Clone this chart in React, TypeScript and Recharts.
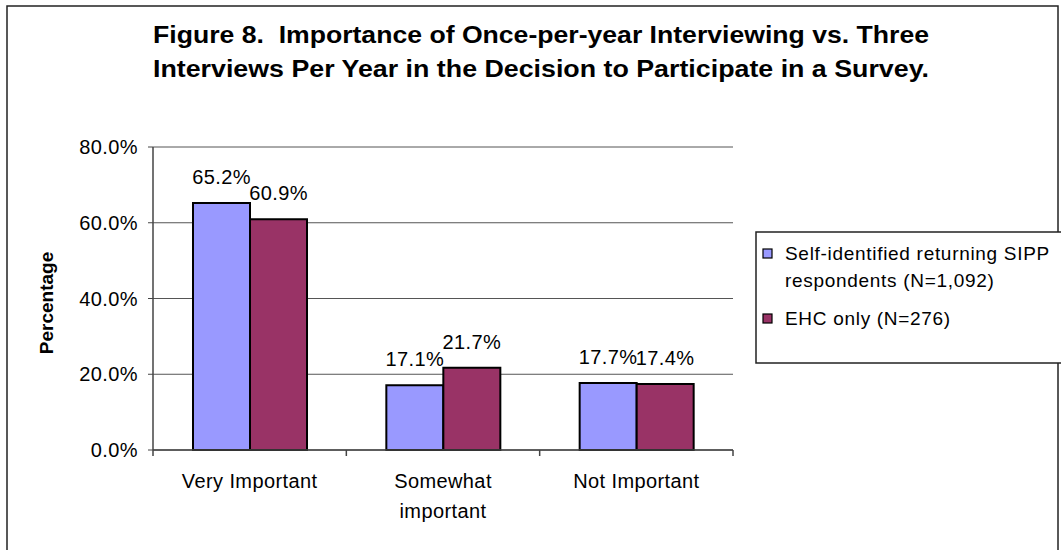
import React from "react";
import {
  BarChart,
  Bar,
  XAxis,
  YAxis,
  CartesianGrid,
  LabelList,
} from "recharts";

const categories = ["Very Important", "Somewhat important", "Not Important"];
const categoryLines = [["Very Important"], ["Somewhat", "important"], ["Not Important"]];
const selfIdentified = [65.2, 17.1, 17.7];
const ehcOnly = [60.9, 21.7, 17.4];
const yTicks = [0, 20, 40, 60, 80];
const seriesNames = [
  ["Self-identified returning SIPP", "respondents (N=1,092)"],
  ["EHC only (N=276)"],
];
const seriesColors = ["#9999FF", "#993366"];
const titleLines = [
  "Figure 8.  Importance of Once-per-year Interviewing vs. Three",
  "Interviews Per Year in the Decision to Participate in a Survey.",
];

const data = categories.map((c, i) => ({
  category: c,
  idx: i,
  self: selfIdentified[i],
  ehc: ehcOnly[i],
}));

// whole numbers = band centres (text), halves = band edges (tick mark)
const bandTicks = [-0.5, 0, 0.5, 1, 1.5, 2, 2.5];

const FONT = '"Liberation Sans", Arial, sans-serif';
const pct = (v: number) => `${Number(v).toFixed(1)}%`;

function BandTick(props: any) {
  const { x, y, payload } = props;
  const v = payload.value;
  if (!Number.isInteger(v)) {
    return <line x1={x} x2={x} y1={y} y2={y + 6} stroke="#444" strokeWidth={1.5} />;
  }
  const lines = categoryLines[v] || [];
  return (
    <text
      x={x}
      y={y}
      textAnchor="middle"
      fontFamily={FONT}
      fontSize={20}
      letterSpacing={0.4}
      fill="#000"
    >
      {lines.map((l, i) => (
        <tspan key={i} x={x} dy={i === 0 ? 38 : 30}>
          {l}
        </tspan>
      ))}
    </text>
  );
}

export default function App() {
  return (
    <div
      style={{
        position: "absolute",
        left: 0,
        top: 0,
        width: 1061,
        height: 550,
        overflow: "hidden",
        background: "#fff",
        fontFamily: FONT,
      }}
    >
      <BarChart
        width={1061}
        height={550}
        data={data}
        margin={{ top: 147, right: 328, left: 73, bottom: 40 }}
        barCategoryGap={40}
        barGap={0}
      >
        <CartesianGrid vertical={false} stroke="#555" strokeWidth={1} />
        <XAxis dataKey="category" hide height={0} />
        <XAxis
          xAxisId="band"
          dataKey="idx"
          type="number"
          domain={[-0.5, 2.5]}
          ticks={bandTicks}
          interval={0}
          allowDataOverflow
          height={60}
          tickLine={false}
          tickSize={0}
          tickMargin={0}
          axisLine={{ stroke: "#444", strokeWidth: 1.5 }}
          tick={<BandTick />}
        />
        <YAxis
          domain={[0, 80]}
          ticks={yTicks}
          width={80}
          tickSize={5}
          tickMargin={10}
          tickFormatter={pct}
          axisLine={{ stroke: "#444", strokeWidth: 1.5 }}
          tickLine={{ stroke: "#444" }}
          tick={{ fill: "#000", fontSize: 20, fontFamily: FONT, letterSpacing: 0.4 }}
        />
        <YAxis
          yAxisId="edge"
          orientation="right"
          width={0}
          tick={false}
          tickLine={false}
          axisLine={{ stroke: "#999", strokeWidth: 1.5 }}
        />
        <Bar
          dataKey="self"
          fill={seriesColors[0]}
          stroke="#000"
          strokeWidth={2}
          isAnimationActive={false}
        >
          <LabelList
            dataKey="self"
            position="top"
            offset={19}
            formatter={pct}
            fill="#000"
            fontSize={20}
            fontFamily={FONT}
            letterSpacing={0.4}
          />
        </Bar>
        <Bar
          dataKey="ehc"
          fill={seriesColors[1]}
          stroke="#000"
          strokeWidth={2}
          isAnimationActive={false}
        >
          <LabelList
            dataKey="ehc"
            position="top"
            offset={19}
            formatter={pct}
            fill="#000"
            fontSize={20}
            fontFamily={FONT}
            letterSpacing={0.4}
          />
        </Bar>
      </BarChart>

      <svg
        width={1061}
        height={550}
        style={{ position: "absolute", left: 0, top: 0, pointerEvents: "none" }}
      >
        <rect x={7} y={6} width={1051} height={600} fill="none" stroke="#222" strokeWidth={1.5} />
        {titleLines.map((t, i) => (
          <text
            key={i}
            x={153}
            y={43 + i * 34}
            fontFamily={FONT}
            fontWeight="bold"
            fontSize={23}
            textLength={776}
            lengthAdjust="spacingAndGlyphs"
            style={{ whiteSpace: "pre" }}
            fill="#000"
          >
            {t}
          </text>
        ))}
        <text
          transform="translate(53 303) rotate(-90)"
          textAnchor="middle"
          fontFamily={FONT}
          fontWeight="bold"
          fontSize={19}
          fill="#000"
        >
          Percentage
        </text>
        <rect x={756} y={232} width={330} height={131} fill="#fff" stroke="#222" strokeWidth={1.5} />
        {seriesNames.map((lines, si) => {
          const top = si === 0 ? 249 : 314;
          return (
            <g key={si}>
              <rect x={763} y={top} width={9} height={9} fill={seriesColors[si]} stroke="#000" strokeWidth={1.2} />
              {lines.map((l, li) => (
                <text
                  key={li}
                  x={785}
                  y={top + 11 + li * 27}
                  fontFamily={FONT}
                  fontSize={19}
                  letterSpacing={0.7}
                  fill="#000"
                >
                  {l}
                </text>
              ))}
            </g>
          );
        })}
      </svg>
    </div>
  );
}
